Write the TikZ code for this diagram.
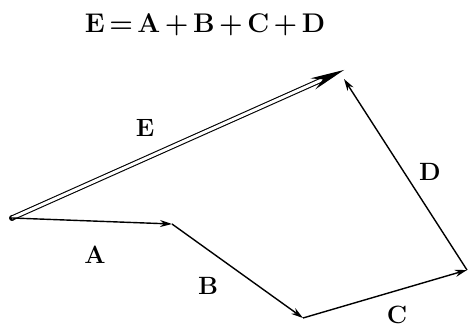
\documentclass[tikz,border=0pt]{standalone}
\usetikzlibrary{arrows.meta}
\begin{document}
\begin{tikzpicture}[x=1pt,y=-1pt,
  vec/.style={line width=1.4pt,-{Stealth[length=12pt,width=7pt]}},
  lbl/.style={font=\fontsize{25}{27}\selectfont\bfseries, inner sep=0pt}]
\useasboundingbox (0,0) rectangle (470,328);
\coordinate (O) at (12,218);
\coordinate (A) at (172,224);
\coordinate (B) at (303,318);
\coordinate (C) at (467,270);
\coordinate (D) at (344,79);
\coordinate (E) at (344,70);
\node[font=\fontsize{27}{29}\selectfont\bfseries, inner sep=0pt] (title) at (205,25) {E\,=\,A\,+\,B\,+\,C\,+\,D};
\fill (O) circle (3pt);
\draw[line width=1.1pt, double, double distance=3pt, -{Stealth[length=34pt,width=12pt]}] (O) -- (E);
\draw[vec] (O) -- (A);
\draw[vec] (A) -- (B);
\draw[vec] (B) -- (C);
\draw[vec] (C) -- (D);
\node[lbl] (lE) at (145,128) {E};
\node[lbl] (lA) at (95,255) {A};
\node[lbl] (lB) at (208,286) {B};
\node[lbl] (lC) at (397,315) {C};
\node[lbl] (lD) at (430,172) {D};
\end{tikzpicture}
\end{document}
